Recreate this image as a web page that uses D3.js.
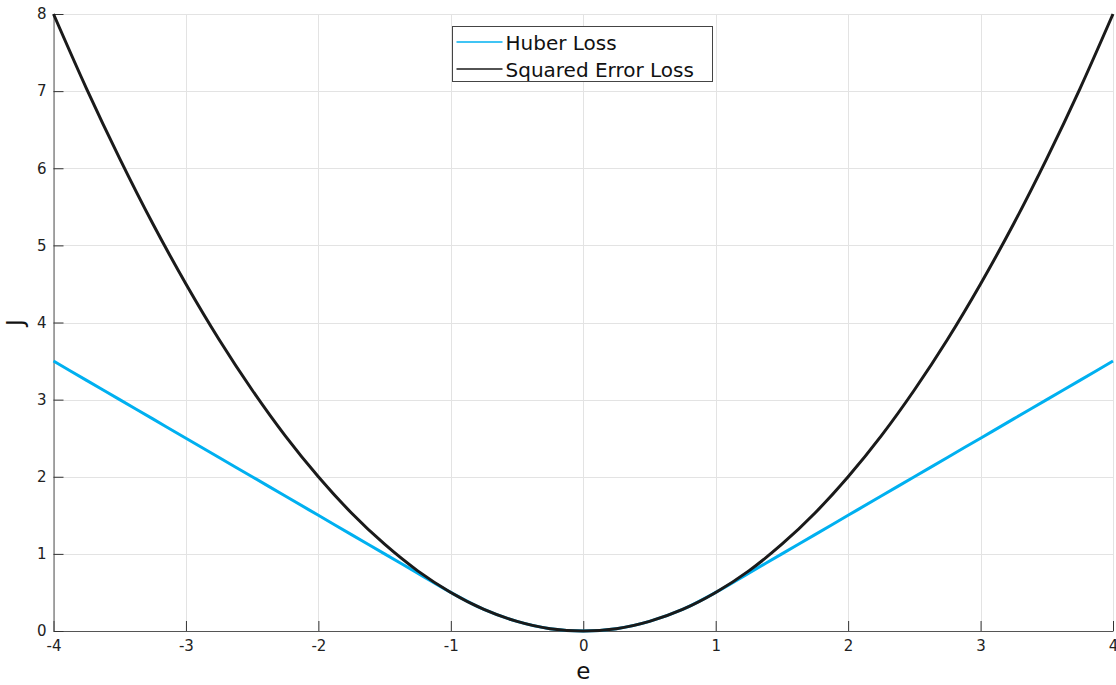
<!DOCTYPE html>
<html>
<head>
<meta charset="utf-8">
<script src="https://cdn.jsdelivr.net/npm/d3@7"></script>
<style>
  body { margin: 0; background: #fff; }
  svg { display: block; font-family: "DejaVu Sans", sans-serif; }
</style>
</head>
<body>
<svg id="chart" width="1116" height="685"></svg>
<script>
// values
const errors = [-4, -3.75, -3.5, -3.25, -3, -2.75, -2.5, -2.25, -2, -1.75, -1.5, -1.25, -1,
  -0.75, -0.5, -0.25, 0, 0.25, 0.5, 0.75, 1, 1.25, 1.5, 1.75, 2, 2.25, 2.5, 2.75, 3,
  3.25, 3.5, 3.75, 4];
const huberLoss = [3.5, 3.25, 3, 2.75, 2.5, 2.25, 2, 1.75, 1.5, 1.25, 1, 0.75, 0.5,
  0.28, 0.125, 0.03, 0, 0.03, 0.125, 0.28, 0.5, 0.75, 1, 1.25, 1.5, 1.75, 2, 2.25, 2.5,
  2.75, 3, 3.25, 3.5];
const squaredLoss = [8, 7.03, 6.125, 5.28, 4.5, 3.78, 3.125, 2.53, 2, 1.53, 1.125, 0.78, 0.5,
  0.28, 0.125, 0.03, 0, 0.03, 0.125, 0.28, 0.5, 0.78, 1.125, 1.53, 2, 2.53, 3.125, 3.78, 4.5,
  5.28, 6.125, 7.03, 8];
const xTicks = [-4, -3, -2, -1, 0, 1, 2, 3, 4];
const yTicks = [0, 1, 2, 3, 4, 5, 6, 7, 8];
const seriesNames = ['Huber Loss', 'Squared Error Loss'];
const seriesColors = ['#00b0f0', '#1a1a1a'];

const svg = d3.select('#chart');
const m = { left: 53.5, right: 1113, top: 14, bottom: 631 };

const x = d3.scaleLinear().domain([-4, 4]).range([m.left, m.right]);
const y = d3.scaleLinear().domain([0, 8]).range([m.bottom, m.top]);

// grid
const grid = svg.append('g').attr('stroke', '#e3e3e3').attr('stroke-width', 1);
grid.selectAll('.gx').data(xTicks).join('line')
  .attr('x1', d => Math.round(x(d)) + 0.5).attr('x2', d => Math.round(x(d)) + 0.5)
  .attr('y1', m.top).attr('y2', m.bottom);
grid.selectAll('.gy').data(yTicks).join('line')
  .attr('x1', m.left).attr('x2', m.right)
  .attr('y1', d => Math.round(y(d)) + 0.5).attr('y2', d => Math.round(y(d)) + 0.5);

// axes with inward ticks, plain hyphen for negatives
const fmt = d => String(d);
const xAxis = svg.append('g')
  .attr('transform', `translate(0,${m.bottom})`)
  .call(d3.axisBottom(x).tickValues(xTicks).tickFormat(fmt)
    .tickSizeInner(-10).tickSizeOuter(0).tickPadding(9));
const yAxis = svg.append('g')
  .attr('transform', `translate(${m.left},0)`)
  .call(d3.axisLeft(y).tickValues(yTicks).tickFormat(fmt)
    .tickSizeInner(-10).tickSizeOuter(0).tickPadding(7));

[xAxis, yAxis].forEach(a => {
  a.attr('font-size', 15).attr('font-family', '"DejaVu Sans", sans-serif');
  a.select('.domain').attr('stroke', '#555');
  a.selectAll('.tick line').attr('stroke', '#333');
  a.selectAll('.tick text').attr('fill', '#222');
});

// curves
const rows = errors.map((e, i) => ({ e, h: huberLoss[i], s: squaredLoss[i] }));
const line = key => d3.line().x(d => x(d.e)).y(d => y(d[key])).curve(d3.curveMonotoneX);

svg.append('path').datum(rows)
  .attr('d', line('h')).attr('fill', 'none')
  .attr('stroke', seriesColors[0]).attr('stroke-width', 3);
svg.append('path').datum(rows)
  .attr('d', line('s')).attr('fill', 'none')
  .attr('stroke', seriesColors[1]).attr('stroke-width', 3);

// axis titles
svg.append('text').attr('x', x(0)).attr('y', 679)
  .attr('text-anchor', 'middle').attr('font-size', 23).attr('fill', '#111').text('e');
svg.append('text').attr('transform', `translate(23,${y(4)}) rotate(-90)`)
  .attr('text-anchor', 'middle').attr('font-size', 23).attr('fill', '#111').text('J');

// legend
const lg = svg.append('g').attr('transform', 'translate(452.5,26.5)');
lg.append('rect').attr('width', 260).attr('height', 55)
  .attr('fill', '#fff').attr('stroke', '#444').attr('stroke-width', 1);
seriesNames.forEach((name, i) => {
  const row = lg.append('g').attr('transform', `translate(0,${15.5 + i * 27})`);
  row.append('line').attr('x1', 4).attr('x2', 50)
    .attr('stroke', seriesColors[i]).attr('stroke-width', 1.5);
  row.append('text').attr('x', 53).attr('y', 7.5)
    .attr('font-size', 20).attr('fill', '#111').text(name);
});
</script>
</body>
</html>
